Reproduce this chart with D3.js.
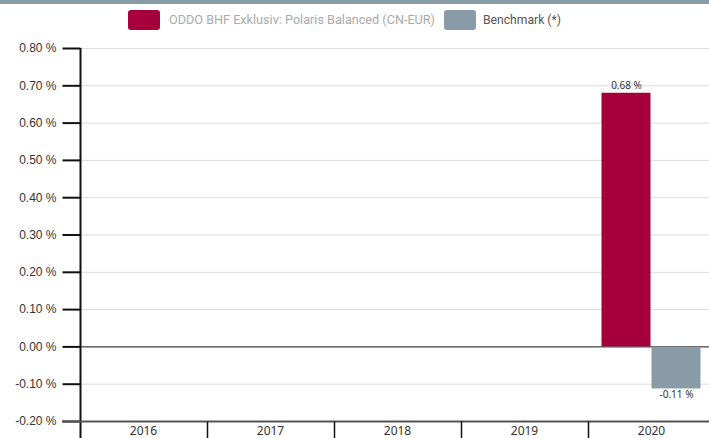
<!DOCTYPE html>
<html>
<head>
<meta charset="utf-8">
<script src="https://cdn.jsdelivr.net/npm/d3@7"></script>
<style>
	body { margin: 0; background: #fff; }
	svg { display: block; font-family: "Noto Sans", sans-serif; }
	.tick text { fill: #333; font-size: 12px; }
	.legend_text { font-family: "Liberation Sans Narrow", "Roboto", sans-serif; font-size: 13px; }
</style>
</head>
<body>
<svg id="chart" width="709" height="438"></svg>
<script>
// data
const years = ["2016", "2017", "2018", "2019", "2020"];
const fundValues = [null, null, null, null, 0.68];
const benchValues = [null, null, null, null, -0.11];
const seriesNames = ["ODDO BHF Exklusiv: Polaris Balanced (CN-EUR)", "Benchmark (*)"];
const seriesColors = ["#a5003c", "#8a9ba8"];
const yTicks = [-0.2, -0.1, 0, 0.1, 0.2, 0.3, 0.4, 0.5, 0.6, 0.7, 0.8];

const svg = d3.select("#chart");
const width = 709, height = 438;
const left = 80, top_y = 48, bottom_y = 421;

// percent format with a plain hyphen for negatives
function pct(v) {
	return d3.format(".2f")(v).replace("\u2212", "-") + " %";
}

// top bar
svg.append("rect")
	.attr("x", 0).attr("y", 0)
	.attr("width", width).attr("height", 4)
	.attr("fill", "#8a9ba8");

const x = d3.scaleBand()
	.domain(years)
	.range([left, left + 5 * 127]);

const x1 = d3.scaleBand()
	.domain([0, 1])
	.range([13.5, 113.5]);

const y = d3.scaleLinear()
	.domain([-0.2, 0.8])
	.range([bottom_y, top_y]);

// gridlines
svg.append("g")
	.selectAll("line")
	.data(yTicks)
	.join("line")
	.attr("x1", left)
	.attr("x2", width)
	.attr("y1", d => y(d) + 0.5)
	.attr("y2", d => y(d) + 0.5)
	.attr("stroke", d => d == 0 ? "#111" : "#dcdcdc")
	.attr("stroke-width", 1);

// y axis
const yAxis = svg.append("g")
	.attr("transform", "translate(" + (left + 0.5) + ",0)")
	.call(d3.axisLeft(y)
		.tickValues(yTicks)
		.tickSize(18)
		.tickPadding(6)
		.tickFormat(pct));
yAxis.select(".domain").remove();
yAxis.selectAll(".tick line").attr("stroke", "#111").attr("stroke-width", 2);
yAxis.append("line")
	.attr("x1", 0).attr("x2", 0)
	.attr("y1", top_y).attr("y2", height)
	.attr("stroke", "#111").attr("stroke-width", 2);

// x axis
const xAxis = svg.append("g")
	.attr("transform", "translate(0," + (bottom_y + 0.5) + ")");
xAxis.append("line")
	.attr("x1", left - 18).attr("x2", width)
	.attr("y1", 0).attr("y2", 0)
	.attr("stroke", "#555").attr("stroke-width", 2);
xAxis.selectAll(".xtick")
	.data(years.slice(1))
	.join("line")
	.attr("class", "xtick")
	.attr("x1", d => x(d) + 0.5).attr("x2", d => x(d) + 0.5)
	.attr("y1", 0).attr("y2", 20)
	.attr("stroke", "#111").attr("stroke-width", 1.5);
xAxis.selectAll("text")
	.data(years)
	.join("text")
	.attr("x", d => x(d) + x.bandwidth() / 2)
	.attr("y", 13)
	.attr("text-anchor", "middle")
	.attr("fill", "#333")
	.attr("font-size", 12)
	.text(d => d);

// bars
const series = [fundValues, benchValues];
series.forEach(function(values, s) {
	const pts = years.map((yr, i) => ({year: yr, value: values[i]})).filter(d => d.value != null);
	svg.append("g")
		.selectAll("rect")
		.data(pts)
		.join("rect")
		.attr("x", d => x(d.year) + x1(s))
		.attr("width", x1.bandwidth() - 1)
		.attr("y", d => y(Math.max(0, d.value)) + (d.value < 0 ? 1 : 0))
		.attr("height", d => Math.abs(y(d.value) - y(0)))
		.attr("fill", seriesColors[s]);
	svg.append("g")
		.selectAll("text")
		.data(pts)
		.join("text")
		.attr("x", d => x(d.year) + x1(s) + x1.bandwidth() / 2)
		.attr("y", d => d.value >= 0 ? y(d.value) - 4 : y(d.value) + 11)
		.attr("text-anchor", "middle")
		.attr("font-size", 10)
		.attr("fill", "#333")
		.text(d => pct(d.value));
});

// legend
const legend = [
	{x: 128, w: 32, textX: 169, textW: 266, color: "#aaaaaa"},
	{x: 444, w: 32, textX: 483, textW: 78, color: "#555555"}
];
legend.forEach(function(l, i) {
	svg.append("rect")
		.attr("x", l.x).attr("y", 10)
		.attr("width", l.w).attr("height", 20)
		.attr("rx", 3)
		.attr("fill", seriesColors[i]);
	svg.append("text")
		.attr("class", "legend_text")
		.attr("x", l.textX).attr("y", 24)
		.attr("fill", l.color)
		.attr("textLength", l.textW)
		.attr("lengthAdjust", "spacingAndGlyphs")
		.text(seriesNames[i]);
});
</script>
</body>
</html>
